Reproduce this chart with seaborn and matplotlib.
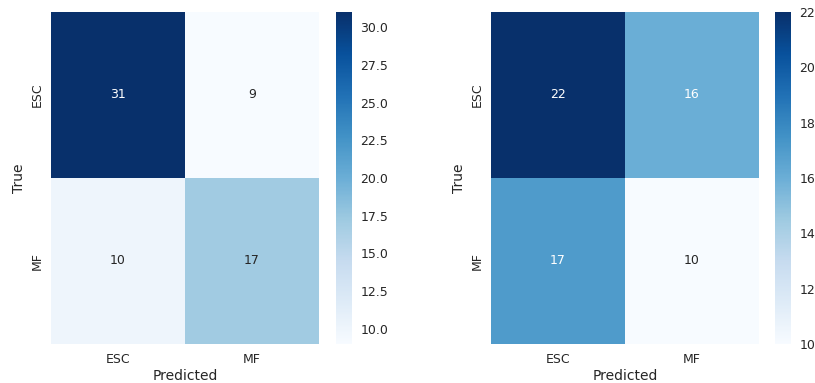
import numpy as np
import pandas as pd
import matplotlib
matplotlib.use("Agg")
import matplotlib.pyplot as plt
import seaborn as sns

sns.set_theme(style="darkgrid")

classes = ["ESC", "MF"]
cm_left = [[31, 9],
           [10, 17]]
cm_right = [[22, 16],
            [17, 10]]

fig = plt.figure(figsize=(8.15, 3.83), dpi=100)

W, H = 815, 383


def frac(x0, y0, x1, y1):
    return [x0 / W, (H - y1) / H, (x1 - x0) / W, (y1 - y0) / H]


panels = [
    (cm_left, frac(51, 12, 319, 344), frac(336, 12, 352, 344)),
    (cm_right, frac(491, 12, 759, 344), frac(775, 12, 791, 344)),
]

for cm, ax_rect, cb_rect in panels:
    ax = fig.add_axes(ax_rect)
    cax = fig.add_axes(cb_rect)
    df = pd.DataFrame(cm, index=classes, columns=classes)
    sns.heatmap(df, annot=True, fmt="d", cmap="Blues", ax=ax, cbar_ax=cax,
                annot_kws={"fontsize": 9})
    ax.set_xlabel("Predicted", fontsize=10, labelpad=2)
    ax.set_ylabel("True", fontsize=10, labelpad=3.5)
    ax.tick_params(axis="x", labelsize=9, length=0, pad=6.8)
    ax.tick_params(axis="y", labelsize=9, length=0, pad=5.3)
    cax.tick_params(labelsize=9, length=0, pad=6)

fig.savefig("out.png", dpi=100)
